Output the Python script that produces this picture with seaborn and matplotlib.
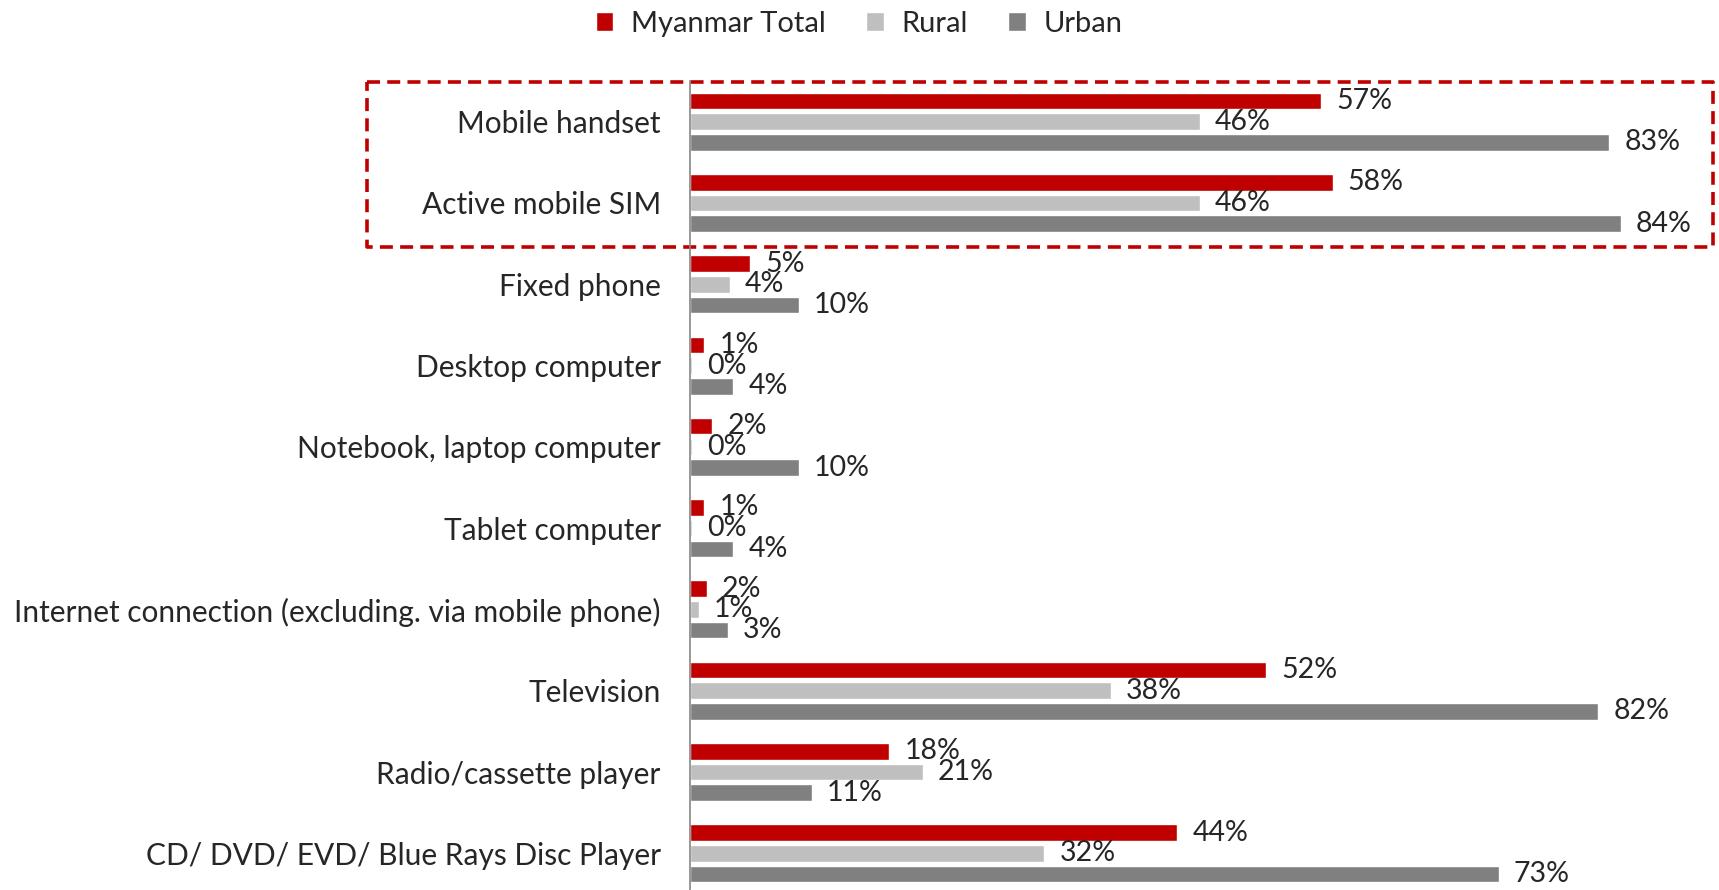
import matplotlib
matplotlib.use('Agg')
import matplotlib.pyplot as plt
import matplotlib.transforms as mtransforms
from matplotlib.patches import Rectangle
import pandas as pd
import seaborn as sns

# ---- data ----
categories = [
  "Mobile handset",
  "Active mobile SIM",
  "Fixed phone",
  "Desktop computer",
  "Notebook, laptop computer",
  "Tablet computer",
  "Internet connection (excluding. via mobile phone)",
  "Television",
  "Radio/cassette player",
  "CD/ DVD/ EVD/ Blue Rays Disc Player",
]
series = ["Myanmar Total", "Rural", "Urban"]
myanmar_total = [57, 58, 5.4, 1.3, 2.0, 1.3, 1.5, 52, 18, 44]
rural = [46, 46, 3.6, 0.2, 0.2, 0.2, 0.8, 38, 21, 32]
urban = [83, 84, 9.8, 3.9, 9.8, 3.9, 3.4, 82, 11, 73]
colors = ["#C00000", "#BFBFBF", "#808080"]

df = pd.DataFrame({
  "item": categories * 3,
  "group": [s for s in series for _ in categories],
  "value": myanmar_total + rural + urban,
})

sns.set_style("white")
plt.rcParams['font.family'] = ['Lato', 'DejaVu Sans']
text_color = "#262626"

fig = plt.figure(figsize=(17.19, 8.90), dpi=100)
ax = fig.add_axes([690 / 1719, -0.0045, 997 / 1719, 0.9135])

sns.barplot(data=df, y="item", x="value", hue="group", hue_order=series,
            palette=colors, orient="h", width=0.764, gap=0.2,
            saturation=1, ax=ax)

# value labels outside bar ends
for cont, vals in zip(ax.containers, [myanmar_total, rural, urban]):
  ax.bar_label(cont, labels=[f"{round(v)}%" for v in vals], padding=11,
               fontsize=20.5, color=text_color)

ax.set_xlim(0, 90)
ax.set_xlabel("")
ax.set_ylabel("")
ax.set_xticks([])
ax.tick_params(axis="y", length=0, pad=21, labelsize=21.5, labelcolor=text_color)
for side in ["top", "right", "bottom"]:
  ax.spines[side].set_visible(False)
ax.spines["left"].set_color("#868686")
ax.spines["left"].set_linewidth(1.2)

# legend on top
handles, labels = ax.get_legend_handles_labels()
ax.legend_.remove()
fig.legend(handles, labels, ncol=3, loc="center", frameon=False,
           bbox_to_anchor=(859 / 1719, 1 - 24 / 890), fontsize=21,
           handlelength=0.6, handleheight=0.6, handletextpad=0.6,
           columnspacing=1.4, labelcolor=text_color)

# dashed highlight around the mobile rows
trans = mtransforms.blended_transform_factory(fig.transFigure, ax.transData)
ax.add_patch(Rectangle((367 / 1719, -0.49), (1713 - 367) / 1719, 2.03,
                       transform=trans, fill=False, edgecolor="#C00000",
                       linewidth=2.6, linestyle=(0, (3.6, 2.0)),
                       joinstyle="round", clip_on=False))

fig.savefig("out.png", dpi=100)
